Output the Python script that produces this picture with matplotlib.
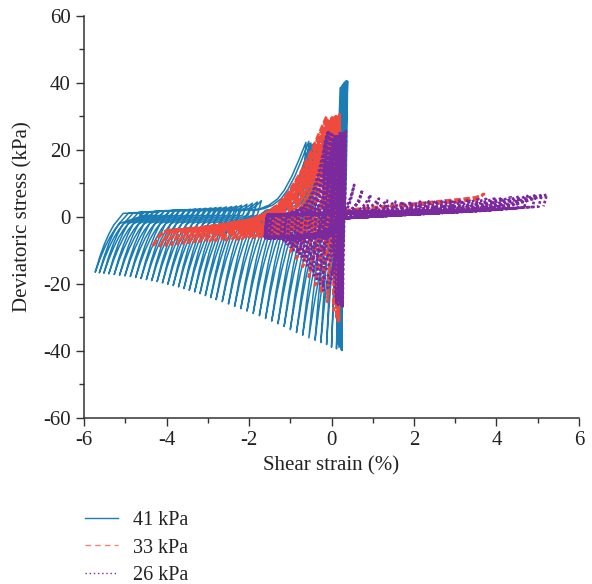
import matplotlib
matplotlib.use("Agg")
import matplotlib.pyplot as plt
from matplotlib.lines import Line2D
from matplotlib.ticker import MultipleLocator

plt.rcParams['font.family'] = ['Liberation Serif', 'DejaVu Serif']
plt.rcParams['axes.unicode_minus'] = False

# ---- 41 kPa: per-cycle trough, knee and peak of the stress-strain loops ----
blue_trough_strain = [0.22, 0.24, 0.25, 0.24, 0.23, 0.20, 0.16, 0.18,
                      0.12, 0.00, -0.12, -0.26, -0.40, -0.55, -0.70, -0.85, -1.00, -1.15,
                      -1.30, -1.45, -1.60, -1.75, -1.90, -2.05, -2.20, -2.35, -2.50, -2.65,
                      -2.80, -2.93, -3.06, -3.19, -3.32, -3.45, -3.58, -3.71, -3.84, -3.97,
                      -4.10, -4.23, -4.36, -4.49, -4.62, -4.75, -4.88, -5.01, -5.14, -5.27,
                      -5.40, -5.52, -5.63, -5.73]
blue_trough_stress = [-38.5, -39.5, -40.0, -39.8, -39.2, -38.8, -38.0, -39.0,
                      -39.5, -39.0, -38.2, -37.6, -36.9, -36.2, -35.4, -34.6, -33.7, -32.8,
                      -32.0, -31.2, -30.4, -29.6, -28.9, -28.2, -27.5, -26.8, -26.1, -25.4,
                      -24.8, -24.2, -23.6, -23.0, -22.5, -22.0, -21.5, -21.0, -20.6, -20.2,
                      -19.8, -19.4, -19.1, -18.8, -18.5, -18.2, -17.9, -17.7, -17.5, -17.3,
                      -17.1, -16.9, -16.8, -16.6]
blue_knee_strain = [0.28, 0.26, 0.24, 0.22, 0.20, 0.18, 0.16, 0.26,
                    -0.25, -0.28, -0.30, -0.32, -0.34, -0.36, -0.38, -0.40, -0.42, -0.44,
                    -1.00, -1.10, -1.25, -1.40, -1.30, -1.70, -1.50, -1.90, -1.60, -2.00,
                    -2.20, -2.30, -2.42, -2.55, -2.68, -2.80, -2.92, -3.05, -3.18, -3.30,
                    -3.42, -3.55, -3.68, -3.80, -3.92, -4.05, -4.18, -4.30, -4.42, -4.55,
                    -4.68, -4.80, -4.92, -5.05]
blue_peak_strain = [0.39, 0.36, 0.33, 0.30, 0.27, 0.24, 0.21, 0.37,
                    0.30, 0.27, 0.24, 0.21, 0.18, 0.15, 0.12, 0.09, 0.06, 0.03,
                    -0.30, -0.36, -0.40, -0.44, -0.38, -0.50, -0.47, -0.55, -0.52, -0.62,
                    -1.70, -1.80, -1.92, -2.05, -2.18, -2.30, -2.42, -2.55, -2.68, -2.80,
                    -2.92, -3.05, -3.18, -3.30, -3.42, -3.55, -3.68, -3.80, -3.92, -4.05,
                    -4.18, -4.30, -4.42, -4.55]
blue_peak_stress = [40.5, 40.6, 40.4, 40.0, 39.5, 39.0, 38.5, 40.2,
                    36.5, 35.0, 33.5, 32.0, 30.5, 29.0, 28.0, 27.0, 26.0, 25.0,
                    21.0, 21.5, 21.0, 21.8, 21.2, 22.0, 21.4, 22.5, 21.8, 22.2,
                    4.8, 4.4, 4.0, 3.7, 3.4, 3.2, 3.0, 2.9, 2.8, 2.7,
                    2.6, 2.5, 2.4, 2.3, 2.2, 2.1, 2.0, 1.9, 1.8, 1.7,
                    1.6, 1.5, 1.4, 1.3]

# ---- 33 kPa ----
red_trough_strain = [0.15, 0.17, 0.18, 0.16, 0.12,
                     0.05, -0.10, -0.25, -0.40, -0.55, -0.70, -0.85, -1.00,
                     -1.13, -1.26, -1.39, -1.52, -1.65, -1.78, -1.91, -2.04, -2.17, -2.30,
                     -2.43, -2.56, -2.69, -2.82, -2.95, -3.08, -3.21, -3.34, -3.47, -3.60,
                     -3.74, -3.88, -4.02, -4.16, -4.34]
red_trough_stress = [-30.0, -31.0, -31.5, -31.2, -30.5,
                     -28.0, -25.5, -23.0, -20.5, -18.0, -15.0, -12.5, -10.5,
                     -6.0, -6.1, -6.1, -6.2, -6.3, -6.4, -6.5, -6.6, -6.7, -6.8,
                     -6.9, -7.0, -7.1, -7.2, -7.3, -7.4, -7.5, -7.6, -7.8, -8.0,
                     -8.2, -8.4, -8.6, -8.8, -9.0]
red_knee_strain = [0.12, 0.14, 0.15, 0.13, 0.10,
                   -0.30, -0.40, -0.45, -0.50, -0.60, -0.70, -0.80, -0.90,
                   -0.85, -0.95, -1.05, -1.20, -1.30, -1.40, -1.50, -1.60, -1.70, -1.80,
                   -1.90, -2.00, -2.10, -2.20, -2.30, -2.40, -2.50, -2.30, -2.40, -2.20,
                   -2.50, -2.10, -2.50, -2.30, -2.40]
red_peak_strain = [0.17, 0.19, 0.20, 0.18, 0.15,
                   0.12, 0.08, 0.05, 0.02, 0.10, -0.02, 0.06, -0.05,
                   0.00, 0.10, -0.04, 0.05, 0.12, -0.02, 0.08, -0.06, 0.03, 0.07,
                   -0.03, 0.14, -0.07, 0.01, -0.09, 0.09, -0.10, 0.04, -0.05, 0.06,
                   -0.12, 0.02, -0.11, -0.01, -0.08]
red_peak_stress = [29.0, 30.2, 30.6, 30.0, 29.5,
                   30.0, 29.8, 29.5, 29.6, 29.2, 29.0, 28.8, 28.5,
                   29.5, 29.8, 28.5, 29.2, 29.6, 28.4, 29.0, 27.8, 28.6, 28.2,
                   27.6, 29.0, 28.0, 27.5, 28.8, 27.8, 27.2, 28.4, 27.4, 27.0,
                   30.0, 28.0, 29.4, 27.6, 28.6]
# last cycle carried into compression
red_tail_strain = [0.30, 0.80, 1.40, 2.00, 2.60, 3.10, 3.50, 3.70, 3.55, 3.00, 2.40, 1.80, 1.20, 0.60, 0.30]
red_tail_stress = [1.8, 2.6, 3.2, 3.9, 4.6, 5.2, 5.8, 6.8, 5.2, 4.4, 3.8, 3.2, 2.6, 2.1, 1.6]

# ---- 26 kPa ----
purple_trough_strain = [0.20, 0.24, 0.27, 0.26, 0.22, 0.18, 0.12, 0.16,
                        -0.20, -0.28, -0.36, -0.44, -0.52, -0.60, -0.68, -0.76, -0.84, -0.92,
                        -1.00, -1.08, -1.16, -1.24,
                        -0.30, -0.42, -0.55, -0.66, -0.78, -0.88, -0.98, -1.06, -1.14, -1.21,
                        -1.28, -1.34, -1.40, -1.45, -1.49, -1.52, -1.55, -1.57, -1.59, -1.60,
                        -1.61, -1.62, -1.62, -1.61, -1.60]
purple_trough_stress = [-25.5, -26.3, -26.8, -26.5, -26.0, -25.2, -25.8, -26.4,
                        -22.0, -20.5, -19.0, -17.5, -16.0, -14.5, -13.0, -12.0, -11.0, -10.0,
                        -9.0, -8.2, -7.5, -7.0,
                        -6.0, -6.2, -6.0, -6.3, -6.1, -6.4, -6.2, -6.5, -6.3, -6.0,
                        -6.4, -6.2, -6.5, -6.1, -6.3, -6.6, -6.2, -6.4, -6.0, -6.5,
                        -6.3, -6.1, -6.4, -6.2, -6.0]
purple_knee_strain = [0.10, 0.14, 0.16, 0.15, 0.12, 0.08, 0.05, 0.09,
                      -0.05, -0.12, -0.20, -0.28, -0.35, -0.42, -0.50, -0.55, -0.62, -0.68,
                      -0.75, -0.80, -0.88, -0.95,
                      0.25, 0.35, 0.45, 0.55, 0.65, 0.75, 0.85, 0.95, 1.05, 1.15,
                      1.25, 1.35, 1.45, 1.55, 1.65, 1.75, 1.85, 1.95, 2.05, 2.15,
                      2.25, 2.35, 2.45, 2.55, 2.60]
purple_peak_strain = [0.25, 0.30, 0.35, 0.33, 0.28, 0.22, 0.15, 0.20,
                      0.25, 0.30, 0.20, 0.15, 0.22, 0.10, 0.05, 0.12, 0.00, 0.08,
                      -0.05, 0.02, -0.08, -0.10,
                      0.55, 0.75, 0.95, 1.15, 1.35, 1.55, 1.75, 1.95, 2.15, 2.35,
                      2.55, 2.75, 2.95, 3.15, 3.35, 3.55, 3.75, 3.95, 4.15, 4.35,
                      4.55, 4.75, 4.95, 5.10, 5.22]
purple_peak_stress = [24.5, 25.3, 25.6, 25.4, 25.0, 24.6, 24.0, 25.0,
                      20.0, 21.0, 21.5, 22.0, 22.5, 23.0, 23.5, 24.0, 24.5, 24.0,
                      25.0, 24.5, 25.2, 25.0,
                      9.5, 8.0, 6.5, 5.4, 4.8, 4.5, 4.4, 4.4, 4.5, 4.6,
                      4.7, 4.8, 4.9, 5.0, 5.1, 5.2, 5.3, 5.4, 5.6, 5.8,
                      6.0, 6.2, 6.4, 6.5, 6.6]

labels = ['41 kPa', '33 kPa', '26 kPa']
colors = ['#1b7db3', '#f04a3e', '#7a2a9c']

# branch shapes as (strain fraction, stress fraction)
RISE = ([0, 0.25, 0.5, 0.75, 1], [0, 0.33, 0.6, 0.82, 1])
LINE = ([0, 1], [0, 1])
CONVEX = ([0, 0.2, 0.35, 0.5, 0.62, 0.75, 0.88, 1], [0, 0.03, 0.08, 0.17, 0.3, 0.5, 0.75, 1])
ARCH = ([0, 0.2, 0.4, 0.6, 0.8, 1], [0, 0.12, 0.28, 0.48, 0.72, 1])
DROP = ([0, 0.1, 0.2, 0.35, 0.6, 1], [0, 0.45, 0.7, 0.86, 0.96, 1])


def branch(xs, ys, p0, p1, shape):
    for u, v in zip(*shape):
        xs.append(p0[0] + u * (p1[0] - p0[0]))
        ys.append(p0[1] + v * (p1[1] - p0[1]))


def loops(te, ts, ke, pe, ps, rise_w, arch_w, dn_w, r_lvl, hi_lvl, ret_lvl, q_lvl,
          drop, back, q_cap=99.0):
    xs, ys = [], []
    n = len(te)
    for i in range(n):
        T = (te[i], ts[i])
        P = (pe[i], ps[i])
        r_e = min(te[i] + rise_w, 0.5 * (te[i] + pe[i]))
        R = (r_e, r_lvl)
        branch(xs, ys, T, R, RISE)
        k_e = max(ke[i], r_e)
        K = (k_e, min(hi_lvl, ps[i] - 0.3))
        if k_e > r_e:
            branch(xs, ys, R, K, LINE)
        branch(xs, ys, K, P, CONVEX)
        D = (pe[i] - dn_w, max(ret_lvl, ps[i] - drop))
        branch(xs, ys, P, D, LINE)
        if i + 1 < n:
            Q = (min(te[i + 1] + arch_w, D[0] - 0.02, q_cap), q_lvl)
            branch(xs, ys, D, Q, LINE)
            branch(xs, ys, Q, (te[i + 1], ts[i + 1]), back)
    return xs, ys


fig = plt.figure(figsize=(5.92, 5.84), dpi=100)
ax = fig.add_axes([0.142, 0.285, 0.836, 0.688])

bx, by = loops(blue_trough_strain, blue_trough_stress, blue_knee_strain,
               blue_peak_strain, blue_peak_stress,
               0.45, 0.60, 0.10, -2.5, 1.8, 0.5, -2.0, 999, ARCH)
ax.plot(bx, by, color=colors[0], lw=1.1, solid_joinstyle='round')

rx, ry = loops(red_trough_strain, red_trough_stress, red_knee_strain,
               red_peak_strain, red_peak_stress,
               0.25, 0.35, 0.05, -4.5, -2.0, -1.0, -4.0, 999, ARCH)
ax.plot(rx, ry, color=colors[1], lw=1.9, ls=(0, (2.5, 1)))
ax.plot(red_tail_strain, red_tail_stress, color=colors[1], lw=1.9, ls=(0, (2.5, 1)))

px, py = loops(purple_trough_strain, purple_trough_stress, purple_knee_strain,
               purple_peak_strain, purple_peak_stress,
               0.06, 1.80, 0.08, 0.5, 1.5, 0.0, -0.5, 3.5, DROP, q_cap=0.25)
ax.plot(px, py, color=colors[2], lw=1.9, ls=(0, (1, 0.8)))

ax.set_xlim(-6, 6)
ax.set_ylim(-60, 60)
ax.xaxis.set_major_locator(MultipleLocator(2))
ax.xaxis.set_minor_locator(MultipleLocator(1))
ax.yaxis.set_major_locator(MultipleLocator(20))
ax.yaxis.set_minor_locator(MultipleLocator(10))
for s in ['top', 'right']:
    ax.spines[s].set_visible(False)
for s in ['left', 'bottom']:
    ax.spines[s].set_linewidth(1.1)
    ax.spines[s].set_color('#333333')
ax.tick_params(which='major', direction='out', length=6, width=1.0, colors='#333333',
               labelsize=15, labelcolor='#222222')
ax.tick_params(which='minor', direction='out', length=3.5, width=1.0, colors='#333333')
ax.set_xlabel('Shear strain (%)', fontsize=15, color='#222222', labelpad=5)
ax.set_ylabel('Deviatoric stress (kPa)', fontsize=15, color='#222222', labelpad=8)

handles = [Line2D([], [], color=colors[0], lw=1.0),
           Line2D([], [], color=colors[1], lw=1.0, ls=(0, (4, 3)), alpha=0.7),
           Line2D([], [], color=colors[2], lw=1.0, ls=(0, (1, 2)))]
fig.legend(handles, labels, loc='upper left', bbox_to_anchor=(0.13, 0.139),
           borderaxespad=0, frameon=False, fontsize=14.5, handlelength=1.65,
           handletextpad=0.75, labelspacing=0.42, labelcolor='#222222')

fig.savefig('out.png', dpi=100)
